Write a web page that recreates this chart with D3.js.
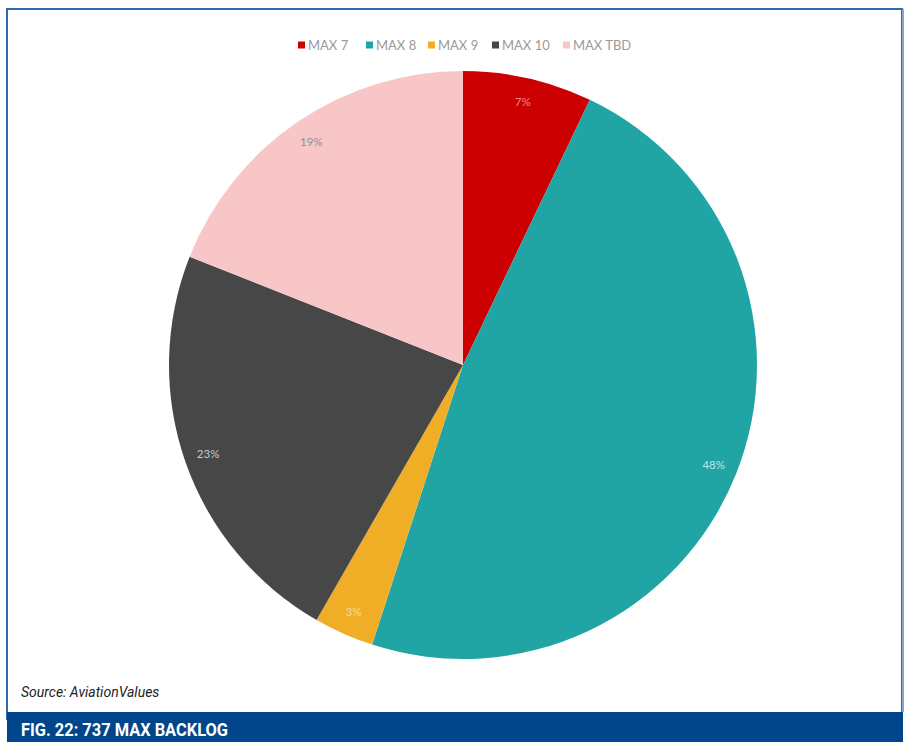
<!DOCTYPE html>
<html>
<head>
<meta charset="utf-8">
<script src="https://cdn.jsdelivr.net/npm/d3@7"></script>
<style>
  html, body { margin: 0; padding: 0; background: #fff; }
</style>
</head>
<body>
<div id="chart"></div>
<script>
// slice data (percent of backlog)
const categories = ['MAX 7', 'MAX 8', 'MAX 9', 'MAX 10', 'MAX TBD'];
const shares = [7.1, 47.9, 3.3, 22.7, 19.0];
const slice_colors = ['#cc0000', '#21a4a4', '#f0ae27', '#474747', '#f8c6c6'];
const label_colors = ['#f08a8a', '#bfe3e3', '#f8dca0', '#c8c8c8', '#8f8f8f'];

const width = 908, height = 742;
const cx = 463, cy = 365, radius = 294;

let svg = d3.select('#chart')
    .append('svg')
    .attr('width', width)
    .attr('height', height);

// frame around chart area
svg.append('rect')
    .attr('x', 7).attr('y', 9)
    .attr('width', 895).attr('height', 710)
    .attr('fill', '#fff')
    .attr('stroke', '#2e6aad')
    .attr('stroke-width', 2);
svg.append('line')
    .attr('x1', 903).attr('x2', 903)
    .attr('y1', 9).attr('y2', 712)
    .attr('stroke', '#86a6cc')
    .attr('stroke-width', 2);

// pie
let pie = d3.pie().sort(null).value(d => d);
let arcs = pie(shares);
let arc = d3.arc().innerRadius(0).outerRadius(radius);
let label_arc = d3.arc().innerRadius(270).outerRadius(270);

let g = svg.append('g')
    .attr('transform', 'translate(' + cx + ',' + cy + ')');

g.selectAll('path.slice')
    .data(arcs)
    .enter()
    .append('path')
    .attr('class', 'slice')
    .attr('d', arc)
    .attr('fill', (d, i) => slice_colors[i]);

g.selectAll('text.pct')
    .data(arcs)
    .enter()
    .append('text')
    .attr('class', 'pct')
    .attr('transform', d => 'translate(' + label_arc.centroid(d) + ')')
    .attr('text-anchor', 'middle')
    .attr('dy', '0.35em')
    .attr('font-family', 'Lato, "Open Sans", sans-serif')
    .attr('font-size', 11.5)
    .attr('fill', (d, i) => label_colors[i])
    .text(d => Math.round(d.data) + '%');

// legend
let legend_x = [298, 366, 428, 492, 563];
let legend = svg.append('g').attr('transform', 'translate(0,45)');
let items = legend.selectAll('g.item')
    .data(categories)
    .enter()
    .append('g')
    .attr('class', 'item')
    .attr('transform', (d, i) => 'translate(' + legend_x[i] + ',0)');
items.append('rect')
    .attr('x', 0).attr('y', -3.5)
    .attr('width', 7).attr('height', 7)
    .attr('fill', (d, i) => slice_colors[i]);
items.append('text')
    .attr('x', 10)
    .attr('dy', '0.35em')
    .attr('font-family', 'Lato, "Open Sans", sans-serif')
    .attr('font-size', 13)
    .attr('fill', '#9a9a9a')
    .text(d => d);

// source note
svg.append('text')
    .attr('x', 21).attr('y', 697)
    .attr('font-family', 'Roboto, "Liberation Sans", sans-serif')
    .attr('font-style', 'italic')
    .attr('font-size', 14)
    .attr('fill', '#222')
    .text('Source: AviationValues');

// footer bar
svg.append('rect')
    .attr('x', 7).attr('y', 712)
    .attr('width', 896).attr('height', 30)
    .attr('fill', '#01468b');
svg.append('text')
    .attr('x', 21).attr('y', 736)
    .attr('font-family', 'Roboto, sans-serif')
    .attr('font-weight', 'bold')
    .attr('font-size', 19)
    .attr('textLength', 207)
    .attr('lengthAdjust', 'spacingAndGlyphs')
    .attr('fill', '#fff')
    .text('FIG. 22: 737 MAX BACKLOG');
</script>
</body>
</html>
